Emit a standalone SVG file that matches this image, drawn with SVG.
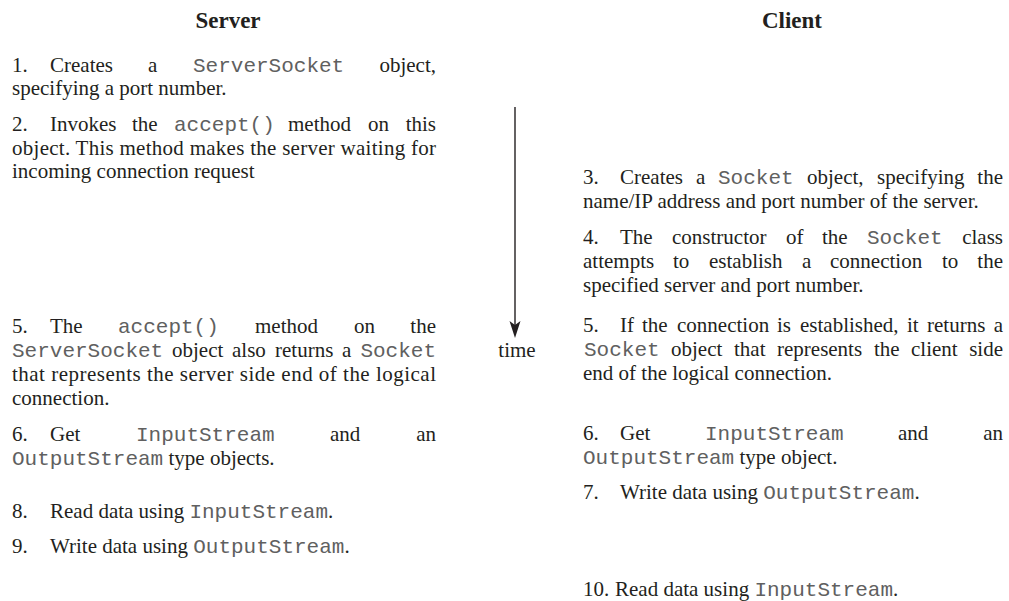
<svg xmlns="http://www.w3.org/2000/svg" width="1009" height="601" viewBox="0 0 1009 601">
<style>
text{font-family:"Liberation Serif","Times New Roman",serif;font-size:21px;fill:#231f20}
.h{font-weight:bold;font-size:23px;text-anchor:middle}
.m{font-family:"Liberation Mono","Courier New",monospace;font-size:21px;fill:#606060}
.e{text-anchor:end}
</style>
<rect width="1009" height="601" fill="#fff"/>
<g id="server-title"><text class="h" x="228" y="28">Server</text></g>
<g id="client-title"><text class="h" x="792" y="28">Client</text></g>

<g id="s1">
<text x="12" y="72">1.</text><text x="50" y="72">Creates</text><text x="148" y="72">a</text><text class="m" x="193" y="72">ServerSocket</text><text class="e" x="436" y="72">object,</text>
<text x="12" y="95">specifying a port number.</text>
</g>
<g id="s2">
<text x="12" y="131">2.</text><text x="50" y="131">Invokes</text><text x="132" y="131">the</text><text class="m" x="174" y="131">accept()</text><text x="288" y="131">method</text><text x="368" y="131">on</text><text class="e" x="436" y="131">this</text>
<text x="12" y="155" textLength="424" lengthAdjust="spacing">object. This method makes the server waiting for</text>
<text x="12" y="178">incoming connection request</text>
</g>
<g id="s5">
<text x="12" y="333">5.</text><text x="50" y="333">The</text><text class="m" x="118" y="333">accept()</text><text x="255" y="333">method</text><text x="354" y="333">on</text><text class="e" x="436" y="333">the</text>
<text class="m" x="12" y="357">ServerSocket</text><text x="172" y="357">object</text><text x="232" y="357">also</text><text x="275" y="357">returns</text><text x="342" y="357">a</text><text class="m e" x="436" y="357">Socket</text>
<text x="12" y="381" textLength="424" lengthAdjust="spacing">that represents the server side end of the logical</text>
<text x="12" y="405">connection.</text>
</g>
<g id="s6">
<text x="12" y="441">6.</text><text x="50" y="441">Get</text><text class="m" x="136" y="441">InputStream</text><text x="330" y="441">and</text><text class="e" x="436" y="441">an</text>
<text x="12" y="465"><tspan class="m">OutputStream</tspan> type objects.</text>
</g>
<g id="s8">
<text x="12" y="518">8.</text><text x="50" y="518">Read data using <tspan class="m">InputStream</tspan>.</text>
</g>
<g id="s9">
<text x="12" y="553">9.</text><text x="50" y="553">Write data using <tspan class="m">OutputStream</tspan>.</text>
</g>

<g id="c3">
<text x="583" y="184">3.</text><text x="620" y="184">Creates</text><text x="696" y="184">a</text><text class="m" x="718" y="184">Socket</text><text x="807" y="184">object,</text><text x="877" y="184">specifying</text><text class="e" x="1003" y="184">the</text>
<text x="583" y="208">name/IP address and port number of the server.</text>
</g>
<g id="c4">
<text x="583" y="244">4.</text><text x="620" y="244">The</text><text x="672" y="244">constructor</text><text x="786" y="244">of</text><text x="822" y="244">the</text><text class="m" x="867" y="244">Socket</text><text class="e" x="1003" y="244">class</text>
<text x="583" y="268">attempts</text><text x="673" y="268">to</text><text x="709" y="268">establish</text><text x="802" y="268">a</text><text x="830" y="268">connection</text><text x="942" y="268">to</text><text class="e" x="1003" y="268">the</text>
<text x="583" y="292">specified server and port number.</text>
</g>
<g id="c5">
<text x="583" y="332">5.</text><text x="620" y="332">If</text><text x="642" y="332">the</text><text x="677" y="332">connection</text><text x="777" y="332">is</text><text x="800" y="332">established,</text><text x="907" y="332">it</text><text x="927" y="332">returns</text><text class="e" x="1003" y="332">a</text>
<text class="m" x="584" y="356">Socket</text><text x="671" y="356">object</text><text x="734" y="356">that</text><text x="777" y="356">represents</text><text x="874" y="356">the</text><text x="911" y="356">client</text><text class="e" x="1003" y="356">side</text>
<text x="583" y="380">end of the logical connection.</text>
</g>
<g id="c6">
<text x="583" y="440">6.</text><text x="620" y="440">Get</text><text class="m" x="705" y="440">InputStream</text><text x="898" y="440">and</text><text class="e" x="1003" y="440">an</text>
<text x="583" y="464"><tspan class="m">OutputStream</tspan> type object.</text>
</g>
<g id="c7">
<text x="583" y="499">7.</text><text x="620" y="499">Write data using <tspan class="m">OutputStream</tspan>.</text>
</g>
<g id="c10">
<text x="583" y="596">10.</text><text x="615" y="596">Read data using <tspan class="m">InputStream</tspan>.</text>
</g>

<g id="connectors">
<line x1="515" y1="107" x2="515" y2="326" stroke="#231f20" stroke-width="1.4"/>
<path d="M515,338 L509.5,321 L515,325 L520.5,321 Z" fill="#231f20"/>
<text x="517" y="357" style="text-anchor:middle">time</text>
</g>
</svg>
